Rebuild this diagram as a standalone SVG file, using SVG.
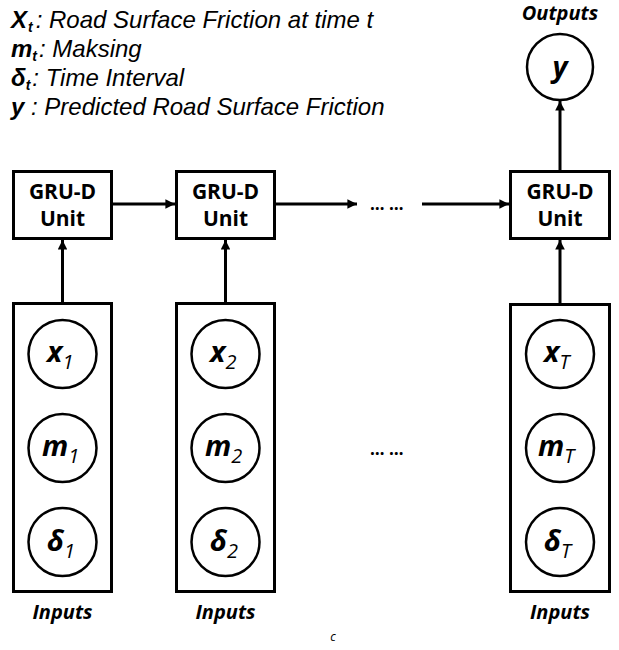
<svg xmlns="http://www.w3.org/2000/svg" width="619" height="650" viewBox="0 0 619 650">
  <style>
    .box { fill: #fff; stroke: #000; stroke-width: 3; }
    .node { fill: #fff; stroke: #000; stroke-width: 2.5; }
    .link { fill: none; stroke: #000; stroke-width: 3; }
    text { font-family: "Open Sans", "Liberation Sans", sans-serif; fill: #000; }
    .unit { font-size: 21px; font-weight: bold; text-anchor: middle; }
    .var { font-size: 29px; font-weight: bold; font-style: italic; }
    .sub { font-size: 20px; font-weight: normal; font-style: italic; }
    .caption { font-size: 20px; font-weight: bold; font-style: italic; text-anchor: middle; }
    .legend { font-family: "Liberation Sans", Arial, sans-serif; font-size: 24px; font-style: italic; }
    .sym { font-weight: bold; }
    .symsub { font-size: 14px; font-weight: bold; }
    .dots { font-size: 17px; font-weight: bold; }
  </style>
  <defs>
    <marker id="arrow" viewBox="0 0 10 10" refX="10" refY="5" markerWidth="3.2" markerHeight="3.2" orient="auto" markerUnits="strokeWidth">
      <path d="M0,0 L10,5 L0,10 z" fill="#000"/>
    </marker>
  </defs>
  <rect width="619" height="650" fill="#fff"/>

  <!-- legend: symbol, subscript, then description -->
  <g id="legend">
    <text class="legend" x="11" y="28"><tspan class="sym">X</tspan><tspan class="symsub" dy="4" dx="1">t</tspan><tspan dy="-4" dx="3">: Road Surface Friction at time t</tspan></text>
    <text class="legend" x="11" y="57"><tspan class="sym">m</tspan><tspan class="symsub" dy="4">t</tspan><tspan dy="-4" dx="2">: Maksing</tspan></text>
    <text class="legend" x="11" y="86"><tspan class="sym">δ</tspan><tspan class="symsub" dy="4">t</tspan><tspan dy="-4" dx="2">: Time Interval</tspan></text>
    <text class="legend" x="11" y="115"><tspan class="sym">y</tspan> : Predicted Road Surface Friction</text>
  </g>

  <!-- connectors -->
  <g id="connectors">
    <line class="link" x1="112" y1="204" x2="175" y2="204" marker-end="url(#arrow)"/>
    <line class="link" x1="275" y1="204" x2="357" y2="204" marker-end="url(#arrow)"/>
    <line class="link" x1="422" y1="204" x2="509" y2="204" marker-end="url(#arrow)"/>
    <line class="link" x1="62.5" y1="303" x2="62.5" y2="240" marker-end="url(#arrow)"/>
    <line class="link" x1="225.5" y1="303" x2="225.5" y2="240" marker-end="url(#arrow)"/>
    <line class="link" x1="560" y1="304" x2="560" y2="240" marker-end="url(#arrow)"/>
    <line class="link" x1="560" y1="171" x2="560" y2="101" marker-end="url(#arrow)"/>
  </g>

  <!-- recurrent units -->
  <g id="gru1">
    <rect class="box" x="13.5" y="171.5" width="98" height="67"/>
    <text class="unit" x="62.5" y="199">GRU-D</text>
    <text class="unit" x="62.5" y="226">Unit</text>
  </g>
  <g id="gru2">
    <rect class="box" x="176.5" y="171.5" width="98" height="67"/>
    <text class="unit" x="225.5" y="199">GRU-D</text>
    <text class="unit" x="225.5" y="226">Unit</text>
  </g>
  <g id="gruT">
    <rect class="box" x="510.5" y="171.5" width="99" height="67"/>
    <text class="unit" x="560" y="199">GRU-D</text>
    <text class="unit" x="560" y="226">Unit</text>
  </g>

  <!-- ellipses between time steps -->
  <g id="ellipsis-top"><text class="dots" x="370" y="210">… …</text></g>
  <g id="ellipsis-mid"><text class="dots" x="370" y="455">… …</text></g>

  <!-- output -->
  <g id="output">
    <text class="caption" x="560" y="20">Outputs</text>
    <circle class="node" cx="560" cy="67" r="33"/>
    <text class="var" x="560" y="77" text-anchor="middle">y</text>
  </g>

  <!-- input groups -->
  <g id="inputs1">
    <rect class="box" x="13.5" y="303.5" width="98" height="288"/>
    <circle class="node" cx="62.5" cy="354" r="34"/>
    <text class="var" x="47" y="362">x<tspan class="sub" dy="7">1</tspan></text>
    <circle class="node" cx="62.5" cy="448" r="34"/>
    <text class="var" x="42" y="456">m<tspan class="sub" dy="7">1</tspan></text>
    <circle class="node" cx="62.5" cy="542" r="34"/>
    <text class="var" x="47" y="551">δ<tspan class="sub" dy="7">1</tspan></text>
    <text class="caption" x="62.5" y="619">Inputs</text>
  </g>
  <g id="inputs2">
    <rect class="box" x="176.5" y="303.5" width="98" height="288"/>
    <circle class="node" cx="225.5" cy="354" r="34"/>
    <text class="var" x="210" y="362">x<tspan class="sub" dy="7">2</tspan></text>
    <circle class="node" cx="225.5" cy="448" r="34"/>
    <text class="var" x="205" y="456">m<tspan class="sub" dy="7">2</tspan></text>
    <circle class="node" cx="225.5" cy="542" r="34"/>
    <text class="var" x="210" y="551">δ<tspan class="sub" dy="7">2</tspan></text>
    <text class="caption" x="225.5" y="619">Inputs</text>
  </g>
  <g id="inputsT">
    <rect class="box" x="510.5" y="304.5" width="99" height="287"/>
    <circle class="node" cx="560" cy="354" r="34"/>
    <text class="var" x="544" y="362">x<tspan class="sub" dy="7">T</tspan></text>
    <circle class="node" cx="560" cy="448" r="34"/>
    <text class="var" x="538" y="456">m<tspan class="sub" dy="7">T</tspan></text>
    <circle class="node" cx="560" cy="542" r="34"/>
    <text class="var" x="544" y="551">δ<tspan class="sub" dy="7">T</tspan></text>
    <text class="caption" x="560" y="619">Inputs</text>
  </g>

  <!-- panel label -->
  <text x="333" y="641" font-size="12" font-style="italic" text-anchor="middle">c</text>
</svg>
